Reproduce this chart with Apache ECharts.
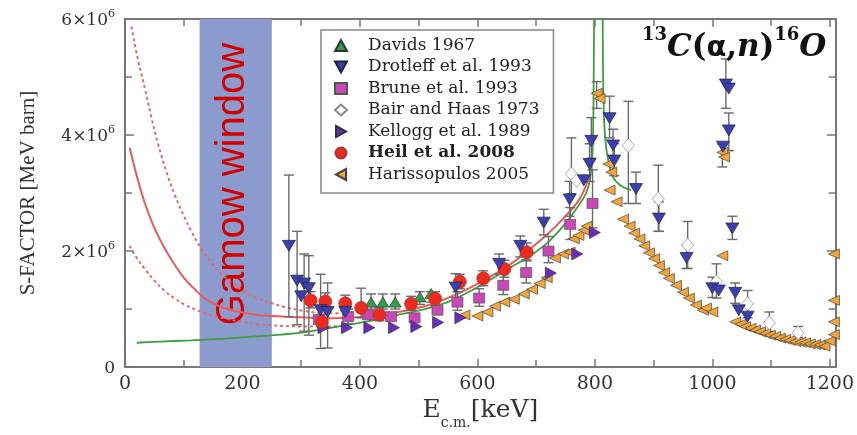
<!DOCTYPE html>
<html><head><meta charset="utf-8">
<script src="https://cdn.jsdelivr.net/npm/echarts@6/dist/echarts.min.js"></script>
<style>html,body{margin:0;padding:0;background:#fff}#c{width:857px;height:435px}</style>
</head><body><div id="c"></div>
<script>
// S-factor in units of 10^6 MeV barn. Rows: [E_cm (keV), S, errLow, errHigh]
const davids = [[419,1.12,1.0,1.26],[439,1.12,1.0,1.26],[460,1.12,1.0,1.26],[502,1.21,1.08,1.3],[521,1.27,1.12,1.3]];
const drotleff = [[279,2.09,0.87,3.31],[293,1.49,0.73,2.34],[305,1.44,0.62,1.95],[313,1.36,0.55,1.92],[300,1.22],[333,0.98,0.32,1.6],[345,0.95,0.33,1.45],[375,0.95],
  [563,1.37,1.2,1.61],[637,1.78,1.6,1.95],[673,2.09,1.9,2.26],[713,2.49,2.28,2.72],[757,2.89,2.6,3.2],[781,3.22],[791,3.5,3.2,3.85],[794,3.9,3.6,4.3],
  [825,4.29,3.95,4.67],[831,3.82,3.6,4.1],[833,3.56,3.3,3.85],[870,3.07,2.82,3.36],[909,2.56,2.34,2.85],[956,1.88,1.7,2.1],[1000,1.36,1.2,1.55],[1011,1.32],
  [1023,4.87,4.46,5.31],[1028,4.8],[1028,4.08,3.73,4.38],[1018,3.8],[1034,2.39,2.2,2.6],[1039,1.28,1.1,1.45],[1045,0.98],[1060,0.87]];
const brune = [[330,0.82],[380,0.87,0.75,1.0],[414,0.9],[453,0.87],[493,0.85],[532,0.98],[566,1.12,0.98,1.3],[603,1.19,1.05,1.35],[644,1.41,1.25,1.6],
  [683,1.63,1.45,1.85],[721,2.0,1.8,2.25],[758,2.46,2.2,2.75],[796,2.82,2.4,3.4]];
const bairHaas = [[760,3.33,2.99,3.95],[769,3.22],[857,3.82,2.82,4.58],[908,2.9,2.34,3.48],[958,2.1,1.7,2.51],[1007,1.47,1.19,1.78],[1060,1.09,0.85,1.32],[1097,0.76,0.61,0.95],[1146,0.59,0.51,0.7]];
const kellogg = [[338,0.68],[378,0.68],[416,0.68],[458,0.68],[496,0.7],[533,0.77],[571,0.85],[725,1.62],[770,1.95],[800,2.32]];
const heil = [[316,1.15,1.02,1.3],[341,1.13,1.0,1.28],[375,1.1,0.97,1.24],[402,1.02,0.85,1.36],[433,0.9,0.8,1.02],[335,0.78,0.68,0.9],[487,1.09,0.98,1.22],[528,1.18,1.06,1.3],
  [570,1.47,1.35,1.6],[610,1.53,1.4,1.66],[646,1.69,1.55,1.84],[684,1.98,1.83,2.14]];
const harissopulos = [[578,0.9],[600,0.88],[617,0.95],[630,1.05],[646,1.12],[662,1.17],[679,1.26],[693,1.34],[706,1.44],[718,1.54],[732,1.88],[746,1.95],[757,1.98],
  [764,2.21],[772,2.27],[781,2.36],[786,2.43],[803,4.72,4.46,4.92],[808,4.63],[823,3.5],[828,3.36],[825,3.05],[837,2.85],[848,2.55],[859,2.43],[867,2.31],[876,2.21],
  [884,2.09],[892,1.97],[901,1.87],[909,1.75],[918,1.63],[926,1.53],[938,1.41],[950,1.29],[960,1.19],[972,1.07],[984,0.98],[989,1.02],[1000,0.95],
  [1017,3.7,3.45,3.84],[1020,3.62],[1017,1.92],[1039,0.78],[1048,0.74],[1056,0.7],[1065,0.67],[1073,0.64],[1081,0.61],[1090,0.58],[1098,0.55],[1107,0.53],
  [1115,0.5],[1124,0.48],[1132,0.46],[1141,0.44],[1150,0.43],[1158,0.42],[1166,0.4],[1175,0.39],[1183,0.38],[1191,0.36],[1200,0.45],[1207,1.95],[1207,1.15],[1207,0.78],[1207,0.56]];
// fitted curves [E, S]
const redFit = [[8,3.78],[20,3.3],[34,2.82],[50,2.4],[68,2.04],[85,1.76],[101,1.53],[118,1.35],[135,1.19],[152,1.09],[169,1.02],[195,0.95],[225,0.9],[250,0.88],[270,0.87],[300,0.86],
  [340,0.84],[380,0.85],[420,0.88],[465,0.95],[510,1.05],[549,1.19],[590,1.38],[634,1.63],[660,1.8],[690,2.04],[720,2.3],[746,2.56],[774,2.9],[791,3.3],[795,3.45]];
const redUpper = [[11,5.87],[22,5.3],[34,4.8],[45,4.3],[56,3.86],[70,3.38],[85,2.96],[100,2.61],[113,2.34],[130,2.04],[147,1.8],[164,1.61],[181,1.46],[200,1.32],[225,1.19],
  [250,1.1],[270,1.04],[304,0.97],[340,0.93],[380,0.93]];
const redLower = [[8,2.09],[20,1.88],[34,1.69],[50,1.49],[68,1.31],[85,1.18],[101,1.08],[118,1.0],[135,0.93],[152,0.88],[169,0.84],[200,0.78],[225,0.74],[250,0.72],[270,0.71],[304,0.7],[340,0.7],[380,0.71]];
const greenFitLow = [[20,0.42],[60,0.44],[113,0.46],[170,0.49],[225,0.53],[265,0.56],[304,0.6],[340,0.66],[380,0.73],[420,0.8],[465,0.9],[510,1.0],[549,1.12],[590,1.32],
  [634,1.58],[660,1.74],[690,1.92],[720,2.15],[746,2.43],[770,2.75],[785,3.0],[792,3.25],[796,3.7],[798,5],[799,7]];
const greenFitHigh = [[813,7],[814,5],[816,4.18],[819,3.8],[823,3.56],[831,3.27],[845,3.12],[862,3.05]];
const gamowWindow = [127, 250];
const yTickLabels = {0:'0', 2:'2×10', 4:'4×10', 6:'6×10'};

const serif = 'DejaVu Serif';
const UP='path://M0,10L5.5,0L11,10Z', DOWN='path://M0,0L11,0L5.5,10Z', LEFT='path://M10,0L10,11L0,5.5Z', RIGHT='path://M0,0L10,5.5L0,11Z';
const pts = a => a.map(r => [r[0], r[1]]);
const allData = [davids, drotleff, brune, bairHaas, kellogg, heil, harissopulos];
const errData = [];
allData.forEach(a => a.forEach(r => { if (r.length > 2) errData.push([r[0], r[2], r[3]]); }));

const chart = echarts.init(document.getElementById('c'));
const scat = (name, data, symbol, size, color, border, z) => ({
  name, type:'scatter', data: pts(data), symbol, symbolSize:size, z: z,
  itemStyle:{color, borderColor:border || '#333', borderWidth:0.7, opacity:1}
});
const line = (name, data, color, type, width) => ({
  name, type:'line', data, showSymbol:false, symbol:'none', smooth:0.4, z:3, silent:true,
  lineStyle:{color, type, width}
});
const axisCommon = {min:0, max:1210, interval:200};
chart.setOption({
  animation:false,
  grid:{left:125, right:16, top:19, bottom:62},
  title:{
    text:'{sup|13}{it|C}{p|(}{al|α}{p|,}{it|n}{p|)}{sup|16}{it|O}', left:637, top:21,
    textStyle:{rich:{
      sup:{fontFamily:serif, fontWeight:'bold', fontSize:18, lineHeight:20, verticalAlign:'top', color:'#111'},
      it:{fontFamily:serif, fontWeight:'bold', fontStyle:'italic', fontSize:31, lineHeight:37, verticalAlign:'bottom', color:'#111'},
      p:{fontFamily:serif, fontWeight:'bold', fontSize:31, lineHeight:37, verticalAlign:'bottom', color:'#111'},
      al:{fontFamily:'DejaVu Sans', fontWeight:'bold', fontSize:29, lineHeight:37, verticalAlign:'bottom', color:'#111'}
    }}
  },
  legend:{
    orient:'vertical', left:321, top:30, itemWidth:12, itemHeight:11, itemGap:4.5,
    padding:[7,14,10,13], borderColor:'#888', borderWidth:1.5, backgroundColor:'#fff',
    textStyle:{fontFamily:serif, fontSize:17, lineHeight:17, color:'#222', padding:[0,0,0,16]},
    data:[{name:'Davids 1967'},{name:'Drotleff et al. 1993'},{name:'Brune et al. 1993'},{name:'Bair and Haas 1973'},
      {name:'Kellogg et al. 1989'},{name:'Heil et al. 2008', textStyle:{fontWeight:'bold'}},{name:'Harissopulos 2005'}],
    z:20
  },
  xAxis:[
    Object.assign({type:'value', position:'bottom',
      name:'{e|E}{sub|c.m.}{e|[keV]}', nameLocation:'middle', nameGap:23,
      nameTextStyle:{rich:{e:{fontFamily:serif, fontSize:25, lineHeight:28, verticalAlign:'top', color:'#333'},
                           sub:{fontFamily:serif, fontSize:14, lineHeight:34, verticalAlign:'top', color:'#333', padding:[18,0,0,0]}}},
      axisLine:{show:true, onZero:false, lineStyle:{color:'#777', width:2}},
      axisTick:{inside:true, length:8, lineStyle:{color:'#777', width:1.5}},
      minorTick:{show:true, splitNumber:2, length:7, lineStyle:{color:'#777', width:1.5}},
      axisLabel:{fontFamily:serif, fontSize:19, color:'#333', margin:7, formatter:v => (v % 200 === 0 ? String(v) : '')},
      splitLine:{show:false}}, axisCommon),
    Object.assign({type:'value', position:'top',
      axisLine:{show:true, onZero:false, lineStyle:{color:'#777', width:2}},
      axisTick:{inside:true, length:8, lineStyle:{color:'#777', width:1.5}},
      minorTick:{show:true, splitNumber:2, length:7, lineStyle:{color:'#777', width:1.5}},
      axisLabel:{show:false}, splitLine:{show:false}}, axisCommon)
  ],
  yAxis:[
    {type:'value', min:0, max:6, interval:2, position:'left',
      name:'S-FACTOR [MeV barn]', nameLocation:'middle', nameGap:86, nameRotate:90,
      nameTextStyle:{fontFamily:'Liberation Serif', fontSize:21, color:'#333'},
      axisLine:{show:true, onZero:false, lineStyle:{color:'#777', width:2}},
      axisTick:{inside:true, length:9, lineStyle:{color:'#777', width:1.5}},
      minorTick:{show:true, splitNumber:2, length:7, lineStyle:{color:'#777', width:1.5}},
      axisLabel:{margin:10, formatter:v => v === 0 ? '{b|0}' : '{b|' + yTickLabels[v] + '}{s|6}',
        rich:{b:{fontFamily:serif, fontSize:17, lineHeight:20, verticalAlign:'bottom', color:'#333'},
              s:{fontFamily:serif, fontSize:11, lineHeight:12, verticalAlign:'top', color:'#333'}}},
      splitLine:{show:false}},
    {type:'value', min:0, max:6, interval:2, position:'right',
      axisLine:{show:true, onZero:false, lineStyle:{color:'#777', width:2}},
      axisTick:{inside:true, length:9, lineStyle:{color:'#777', width:1.5}},
      minorTick:{show:true, splitNumber:2, length:7, lineStyle:{color:'#777', width:1.5}},
      axisLabel:{show:false}, splitLine:{show:false}}
  ],
  series:[
    {name:'gamow', type:'line', data:[], z:1, silent:true,
      markArea:{silent:true, itemStyle:{color:'#8c9bcd', opacity:1},
        label:{show:true, position:'inside', rotate:90, offset:[9,-3], color:'#d40000', fontFamily:'Liberation Sans', fontSize:40},
        data:[[{xAxis:gamowWindow[0], yAxis:0, name:'Gamow window'},{xAxis:gamowWindow[1], yAxis:6}]]}},
    line('redUpper', redUpper, '#e06a6a', [3,3], 2),
    line('redLower', redLower, '#e06a6a', [3,3], 2),
    line('redFit', redFit, '#e85a5a', 'solid', 2),
    line('greenLow', greenFitLow, '#3f9e3f', 'solid', 1.8),
    line('greenHigh', greenFitHigh, '#3f9e3f', 'solid', 1.8),
    {name:'err', type:'custom', data:errData, z:4, silent:true, clip:true,
      renderItem:(params, api) => {
        const x = api.value(0);
        const p1 = api.coord([x, api.value(1)]), p2 = api.coord([x, api.value(2)]);
        const st = {stroke:'#6a6a6a', lineWidth:1.4};
        const w = 5;
        return {type:'group', children:[
          {type:'line', shape:{x1:p1[0], y1:p1[1], x2:p2[0], y2:p2[1]}, style:st},
          {type:'line', shape:{x1:p1[0]-w, y1:p1[1], x2:p1[0]+w, y2:p1[1]}, style:st},
          {type:'line', shape:{x1:p2[0]-w, y1:p2[1], x2:p2[0]+w, y2:p2[1]}, style:st}]};
      }},
    scat('Harissopulos 2005', harissopulos, LEFT, [11,10], '#f2a53a', '#444', 5),
    scat('Bair and Haas 1973', bairHaas, 'diamond', [12,14], '#ffffff', '#888', 5),
    scat('Brune et al. 1993', brune, 'rect', [11,10], '#c848b8', '#555', 6),
    scat('Kellogg et al. 1989', kellogg, RIGHT, [11,12], '#6a2cc0', '#333', 6),
    scat('Davids 1967', davids, UP, [12,10], '#2f9e48', '#333', 6),
    scat('Heil et al. 2008', heil, 'circle', 13, '#ec2a1e', '#a33', 7),
    scat('Drotleff et al. 1993', drotleff, DOWN, [13,11], '#3a40b4', '#223', 7)
  ]
});
</script></body></html>
